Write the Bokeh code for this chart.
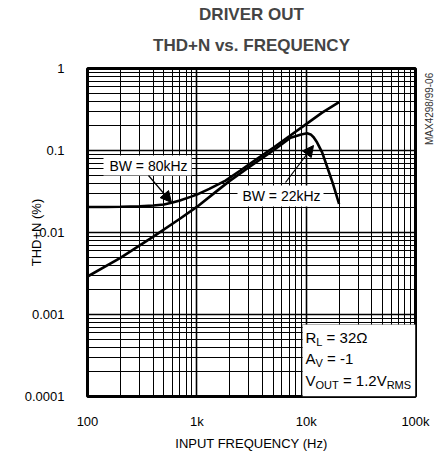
import math
from bokeh.plotting import figure
from bokeh.models import (Range1d, FixedTicker, Label, BoxAnnotation, Arrow,
                          NormalHead, Title, LinearAxis)
from bokeh.embed import file_html
from bokeh.resources import INLINE

# ---- data ----
freq_80k = [100, 150, 200, 300, 400, 500, 600, 700, 875, 1000, 1300, 1830,
            2500, 3500, 5000, 7000, 10000, 14000, 20000]
thd_80k = [0.0205, 0.0205, 0.0206, 0.0208, 0.0213, 0.022, 0.0232, 0.0245,
           0.0272, 0.029, 0.034, 0.043, 0.057, 0.078, 0.108, 0.149, 0.21,
           0.29, 0.39]

freq_22k = [100, 200, 400, 700, 1000, 1500, 2000, 3000, 5000, 7200, 9000,
            10200, 11000, 11700, 12600, 14000, 15600, 17500, 20000]
thd_22k = [0.0029, 0.0049, 0.0089, 0.0147, 0.0205, 0.0315, 0.0426, 0.0625,
           0.1, 0.143, 0.157, 0.162, 0.157, 0.145, 0.125, 0.095, 0.0625,
           0.04, 0.0224]

x_ticks = [100, 1000, 10000, 100000]
x_tick_labels = ["100", "1k", "10k", "100k"]
y_ticks = [0.0001, 0.001, 0.01, 0.1, 1]
y_tick_labels = ["0.0001", "0.001", "0.01", "0.1", "1"]

FONT = "Liberation Sans"

p = figure(frame_width=328, frame_height=328,
           x_axis_type="log", y_axis_type="log",
           x_range=Range1d(100, 100000), y_range=Range1d(0.0001, 1),
           output_backend="svg", toolbar_location=None,
           min_border_left=87, min_border_right=16,
           min_border_top=68, min_border_bottom=58,
           background_fill_color="white", border_fill_color="white")

# titles: p.title is the outer one, the added Title sits next to the plot
p.title.text = "DRIVER OUT"
p.title.align = "center"
p.title.vertical_align = "top"
p.title.text_font = FONT
p.title.text_font_size = "17px"
p.title.text_font_style = "bold"
p.title.standoff = -5
p.add_layout(Title(text="THD+N vs. FREQUENCY", align="center", text_font=FONT,
                   text_font_size="17px", text_font_style="bold",
                   vertical_align="top", standoff=24), "above")

x_minor = [m * 10 ** e for e in range(2, 5) for m in range(2, 10)]
y_minor = [m * 10.0 ** e for e in range(-4, 0) for m in range(2, 10)]
xt = FixedTicker(ticks=x_ticks, minor_ticks=x_minor)
yt = FixedTicker(ticks=y_ticks, minor_ticks=y_minor)
p.xaxis.ticker = xt
p.yaxis.ticker = yt
p.xgrid.ticker = xt
p.ygrid.ticker = yt

p.xaxis.major_label_overrides = dict(zip(x_ticks, x_tick_labels))
p.yaxis.major_label_overrides = dict(zip(y_ticks, y_tick_labels))

for ax in (p.xaxis, p.yaxis):
    ax.axis_line_color = None
    ax.major_tick_line_color = None
    ax.minor_tick_line_color = None
    ax.major_label_text_font = FONT
    ax.major_label_text_font_size = "13px"
    ax.major_label_text_color = "black"
    ax.axis_label_text_font = FONT
    ax.axis_label_text_font_size = "13px"
    ax.axis_label_text_font_style = "normal"
    ax.axis_label_text_color = "black"
p.yaxis.major_label_standoff = 17
p.xaxis.major_label_standoff = 11
p.xaxis.axis_label = "INPUT FREQUENCY (Hz)"
p.xaxis.axis_label_standoff = 4
p.yaxis.axis_label = "THD+N (%)"
p.yaxis.axis_label_standoff = -22

# drawing-number watermark on the right edge
p.extra_y_ranges = {"wm": Range1d(0, 1)}
wm_pos = 0.89
wm = LinearAxis(y_range_name="wm", ticker=FixedTicker(ticks=[wm_pos]),
                major_label_overrides={wm_pos: "MAX4298/99-06"},
                major_label_orientation=math.pi / 2,
                major_label_standoff=8,
                major_label_text_font=FONT,
                major_label_text_font_size="10px",
                major_label_text_color="#333333",
                axis_line_color=None, major_tick_line_color=None,
                minor_tick_line_color=None)
p.add_layout(wm, "right")

for g in (p.xgrid, p.ygrid):
    g.grid_line_color = "black"
    g.grid_line_width = 1.6
    g.grid_line_alpha = 1
    g.minor_grid_line_color = "black"
    g.minor_grid_line_width = 1

p.outline_line_color = "black"
p.outline_line_width = 3

# curves
p.line(freq_80k, thd_80k, line_color="black", line_width=2.6)
p.line(freq_22k, thd_22k, line_color="black", line_width=2.6)


def lab(x, y, text, size="14px", style="normal", align="center",
        baseline="middle", angle=0, font=FONT, color="black"):
    p.add_layout(Label(x=x, y=y, x_units="screen", y_units="screen",
                       text=text, text_font=font, text_font_size=size,
                       text_font_style=style, text_align=align,
                       text_baseline=baseline, angle=angle,
                       text_color=color))


def box(left, right, top, bottom, line_color=None):
    p.add_layout(BoxAnnotation(left=left, right=right, top=top, bottom=bottom,
                               left_units="screen", right_units="screen",
                               top_units="screen", bottom_units="screen",
                               fill_color="white", fill_alpha=1,
                               line_color=line_color, line_width=1))


def arrow(x0, y0, x1, y1):
    p.add_layout(Arrow(x_start=x0, y_start=y0, x_end=x1, y_end=y1,
                       start_units="screen", end_units="screen",
                       line_width=1.2, line_color="black",
                       end=NormalHead(size=11, fill_color="black",
                                      line_color="black")))

# annotation boxes (frame-relative pixels)
box(16, 104, 241, 221)
lab(61, 231, "BW = 80kHz")
arrow(61, 221, 84, 194)

box(150, 236, 211, 190)
lab(194, 201, "BW = 22kHz")
arrow(198, 214, 226, 251)

# conditions box
box(215, 328, 72, 0, line_color="black")

W = {'R': 722, 'L': 556, 'A': 667, 'V': 667, 'O': 778, 'U': 722, 'T': 611,
     'M': 833, 'S': 667, ' ': 278, '=': 584, '-': 333, '.': 278, '1': 556,
     '2': 556, '3': 556, 'Ω': 768}


def rich(x, y, parts, main=15, sub=11):
    for text, is_sub in parts:
        s = sub if is_sub else main
        lead = len(text) - len(text.lstrip(" "))
        x += lead * W[' '] * s / 1000.0
        t = text.lstrip(" ")
        lab(x, y - 4 if is_sub else y, t, size=f"{s}px", align="left")
        x += sum(W.get(c, 556) for c in t) * s / 1000.0

rich(218, 59, [("R", False), ("L", True), (" = 32Ω", False)])
rich(218, 38, [("A", False), ("V", True), (" = -1", False)])
rich(218, 16, [("V", False), ("OUT", True), (" = 1.2V", False), ("RMS", True)])

open("out.html", "w").write(file_html(p, INLINE))
